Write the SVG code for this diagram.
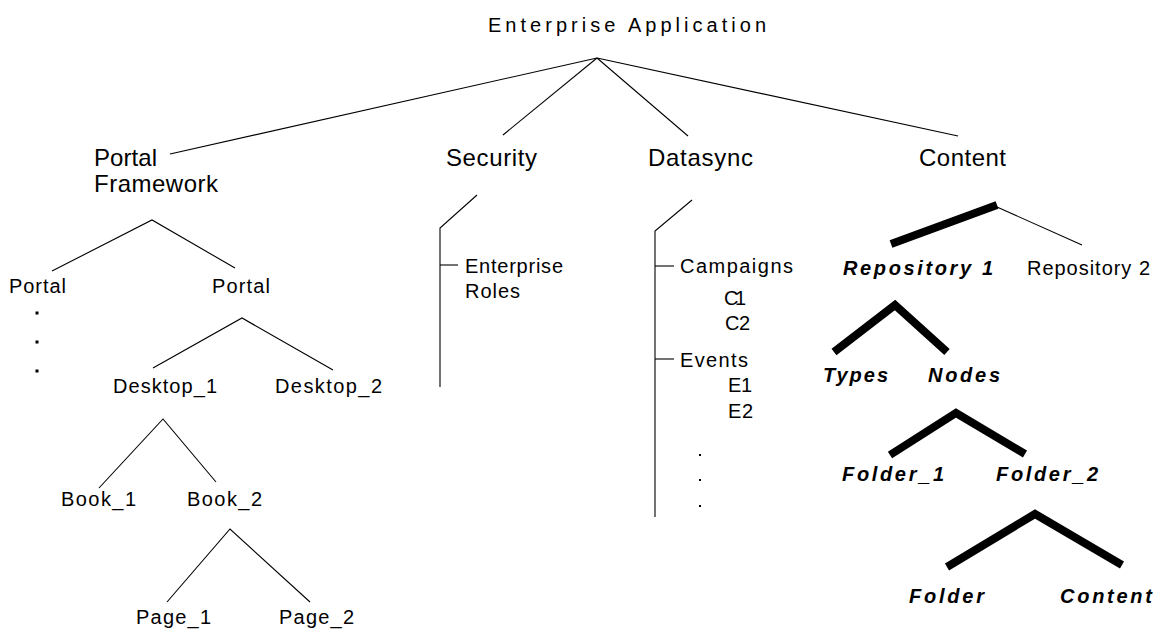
<svg xmlns="http://www.w3.org/2000/svg" width="1157" height="631" viewBox="0 0 1157 631">
<style>
text{font-family:"Liberation Sans",Arial,sans-serif;fill:#000}
.t{font-size:20px}
.h{font-size:24px}
.n{font-size:20px}
.bi{font-size:20px;font-weight:bold;font-style:italic}
.thin{stroke:#000;stroke-width:1.1;fill:none}
.thick{stroke:#000;stroke-width:8;fill:none;stroke-linecap:butt;stroke-linejoin:miter}
</style>
<rect width="1157" height="631" fill="#fff"/>
<g id="connectors">
<line class="thin" x1="597" y1="58" x2="170" y2="154"/>
<line class="thin" x1="597" y1="58" x2="503" y2="135"/>
<line class="thin" x1="597" y1="58" x2="688" y2="136"/>
<line class="thin" x1="597" y1="58" x2="958" y2="136"/>
<polyline class="thin" points="52,271 152,220 235,268"/>
<polyline class="thin" points="153,368 242,318 333,370"/>
<polyline class="thin" points="99,488 163,419 216,482"/>
<polyline class="thin" points="167,602 230,529 310,602"/>
<polyline class="thin" points="477,195 440,228 440,387"/>
<line class="thin" x1="440" y1="265" x2="458" y2="265"/>
<polyline class="thin" points="692,200 655,231 655,517"/>
<line class="thin" x1="655" y1="266" x2="674" y2="266"/>
<line class="thin" x1="655" y1="359" x2="674" y2="359"/>
<line class="thick" x1="891" y1="244" x2="997" y2="205"/>
<line class="thin" x1="997" y1="207" x2="1082" y2="245"/>
<polyline class="thick" points="834,352 895,305 947,352"/>
<polyline class="thick" points="890,455 956,413 1025,454"/>
<polyline class="thick" points="947,567 1035,514 1122,565"/>
</g>
<g id="root"><text class="t" x="488" y="32" textLength="278" lengthAdjust="spacing">Enterprise Application</text></g>
<g id="portal-framework"><text class="h" x="94" y="166" textLength="63" lengthAdjust="spacing">Portal</text><text class="h" x="94" y="192" textLength="124" lengthAdjust="spacing">Framework</text></g>
<g id="security"><text class="h" x="446" y="166" textLength="91" lengthAdjust="spacing">Security</text></g>
<g id="datasync"><text class="h" x="648" y="166" textLength="105" lengthAdjust="spacing">Datasync</text></g>
<g id="content"><text class="h" x="919" y="166" textLength="87" lengthAdjust="spacing">Content</text></g>
<g id="portal-1"><text class="n" x="9" y="293" textLength="57" lengthAdjust="spacing">Portal</text>
<rect x="35.5" y="311.5" width="3" height="3"/><rect x="35.5" y="340.5" width="3" height="3"/><rect x="35.5" y="369.5" width="3" height="3"/></g>
<g id="portal-2"><text class="n" x="212" y="293" textLength="58" lengthAdjust="spacing">Portal</text></g>
<g id="desktop-1"><text class="n" x="113" y="393" textLength="104" lengthAdjust="spacing">Desktop_1</text></g>
<g id="desktop-2"><text class="n" x="275" y="393" textLength="107" lengthAdjust="spacing">Desktop_2</text></g>
<g id="book-1"><text class="n" x="61" y="506" textLength="75" lengthAdjust="spacing">Book_1</text></g>
<g id="book-2"><text class="n" x="187" y="506" textLength="75" lengthAdjust="spacing">Book_2</text></g>
<g id="page-1"><text class="n" x="136" y="624" textLength="75" lengthAdjust="spacing">Page_1</text></g>
<g id="page-2"><text class="n" x="279" y="624" textLength="75" lengthAdjust="spacing">Page_2</text></g>
<g id="enterprise-roles"><text class="n" x="465" y="273" textLength="98" lengthAdjust="spacing">Enterprise</text><text class="n" x="465" y="298" textLength="55" lengthAdjust="spacing">Roles</text></g>
<g id="campaigns"><text class="n" x="680" y="273" textLength="113" lengthAdjust="spacing">Campaigns</text><text class="n" x="724" y="305" textLength="22" lengthAdjust="spacing">C1</text><text class="n" x="725" y="330" textLength="25" lengthAdjust="spacing">C2</text></g>
<g id="events"><text class="n" x="680" y="367" textLength="68" lengthAdjust="spacing">Events</text><text class="n" x="728" y="392" textLength="24" lengthAdjust="spacing">E1</text><text class="n" x="728" y="418" textLength="25" lengthAdjust="spacing">E2</text>
<rect x="699" y="454" width="2" height="2"/><rect x="699" y="479" width="2" height="2"/><rect x="699" y="505" width="2" height="2"/></g>
<g id="repository-1"><text class="bi" x="843" y="275" textLength="150" lengthAdjust="spacing">Repository 1</text></g>
<g id="repository-2"><text class="n" x="1027" y="275" textLength="123" lengthAdjust="spacing">Repository 2</text></g>
<g id="types"><text class="bi" x="823" y="382" textLength="65" lengthAdjust="spacing">Types</text></g>
<g id="nodes"><text class="bi" x="928" y="382" textLength="72" lengthAdjust="spacing">Nodes</text></g>
<g id="folder-1"><text class="bi" x="842" y="481" textLength="102" lengthAdjust="spacing">Folder_1</text></g>
<g id="folder-2"><text class="bi" x="996" y="481" textLength="102" lengthAdjust="spacing">Folder_2</text></g>
<g id="folder"><text class="bi" x="909" y="603" textLength="75" lengthAdjust="spacing">Folder</text></g>
<g id="content-leaf"><text class="bi" x="1060" y="603" textLength="92" lengthAdjust="spacing">Content</text></g>
</svg>
